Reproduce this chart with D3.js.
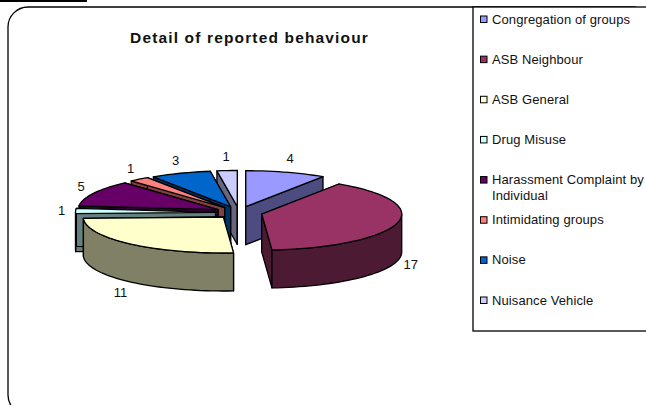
<!DOCTYPE html>
<html>
<head>
<meta charset="utf-8">
<style>
  html, body { margin: 0; padding: 0; background: #fff; }
  svg { display: block; }
  text { font-family: "Liberation Sans", Arial, sans-serif; fill: #111; }
</style>
<script src="https://cdnjs.cloudflare.com/ajax/libs/d3/7.8.5/d3.min.js"></script>
</head>
<body>
<div id="chart"></div>
<script>
const categories = ["Congregation of groups", "ASB Neighbour", "ASB General", "Drug Misuse",
    "Harassment Complaint by Individual", "Intimidating groups", "Noise", "Nuisance Vehicle"];
const counts = [4, 17, 11, 1, 5, 1, 3, 1];
const topColors = ["#9999ff", "#993366", "#ffffcc", "#ccffff", "#660066", "#ff8080", "#0066cc", "#ccccff"];
const sideColors = ["#4c4c80", "#4c1a33", "#808066", "#668080", "#330033", "#804040", "#003366", "#666680"];
// back to front, so nearer slices cover the walls behind them
const paintOrder = [7, 0, 6, 5, 4, 3, 2, 1];

const width = 646, height = 405;

// pie geometry
const cx = 239, cy = 212.5, rx = 140, ry = 36, depth = 38, explode = 23.5;
const labelGap = 14;

let svg = d3.select("#chart").append("svg").attr("width", width).attr("height", height);

// frame
svg.append("rect").attr("x", 0).attr("y", 0).attr("width", 87).attr("height", 2).attr("fill", "#000");
svg.append("rect")
    .attr("x", 8).attr("y", 7).attr("width", 644).attr("height", 408)
    .attr("rx", 20).attr("ry", 20)
    .attr("fill", "#fff").attr("stroke", "#000").attr("stroke-width", 1.3);

svg.append("text")
    .attr("x", 249.5).attr("y", 43)
    .attr("text-anchor", "middle")
    .style("font-size", "15.5px").style("font-weight", "bold").style("letter-spacing", "1.15px")
    .text("Detail of reported behaviour");

// slices, angles measured clockwise from 12 o'clock
let slices = d3.pie().sort(null).value(d => d)(counts);
slices.forEach(s => {
    let mid = (s.startAngle + s.endAngle) / 2;
    s.mid = mid;
    s.ox = cx + explode * Math.sin(mid);
    s.oy = cy - explode * (ry / rx) * Math.cos(mid);
});

function rimPoint(s, a, drop) {
    return [s.ox + rx * Math.sin(a), s.oy - ry * Math.cos(a) + drop];
}

function arcPoints(s, a0, a1, drop) {
    let n = Math.max(2, Math.ceil((a1 - a0) / 0.04));
    return d3.range(n + 1).map(i => rimPoint(s, a0 + (a1 - a0) * i / n, drop));
}

let line = d3.line();
let closed = pts => line(pts) + "Z";

let pie = svg.append("g")
    .attr("stroke", "#000").attr("stroke-width", 1.3).attr("stroke-linejoin", "round");

paintOrder.forEach(i => {
    let s = slices[i];
    let apex = [s.ox, s.oy], apexLow = [s.ox, s.oy + depth];

    // radial walls
    [s.startAngle, s.endAngle].forEach(a => {
        pie.append("path")
            .attr("d", closed([rimPoint(s, a, 0), apex, apexLow, rimPoint(s, a, depth)]))
            .attr("fill", sideColors[i]);
    });

    // outer wall, only the part facing the viewer
    let a0 = Math.max(s.startAngle, Math.PI / 2), a1 = Math.min(s.endAngle, 3 * Math.PI / 2);
    if (a1 > a0) {
        pie.append("path")
            .attr("d", closed(arcPoints(s, a0, a1, 0).concat(arcPoints(s, a0, a1, depth).reverse())))
            .attr("fill", sideColors[i]);
    }

    // top face
    pie.append("path")
        .attr("d", closed([apex].concat(arcPoints(s, s.startAngle, s.endAngle, 0))))
        .attr("fill", topColors[i]);
});

// data labels
svg.append("g").selectAll("text")
    .data(slices)
    .join("text")
    .attr("x", s => s.ox + (rx + labelGap) * Math.sin(s.mid))
    .attr("y", s => {
        let front = s.mid > Math.PI / 2 && s.mid < 3 * Math.PI / 2;
        return s.oy - (ry + labelGap) * Math.cos(s.mid) + (front ? depth : 0);
    })
    .attr("dy", "0.35em")
    .attr("text-anchor", "middle")
    .style("font-size", "13px")
    .text(s => s.data);

// legend
svg.append("rect")
    .attr("x", 473).attr("y", 7).attr("width", 190).attr("height", 324)
    .attr("fill", "#fff").attr("stroke", "#000").attr("stroke-width", 1.3);

let legendY = d3.scalePoint().domain(categories).range([19, 300]);

let legend = svg.append("g").selectAll("g")
    .data(categories)
    .join("g")
    .attr("transform", d => `translate(480,${legendY(d)})`);

legend.append("rect")
    .attr("x", 0.5).attr("y", -3).attr("width", 6.5).attr("height", 6.5)
    .attr("fill", (d, i) => topColors[i])
    .attr("stroke", "#000").attr("stroke-width", 1);

legend.append("text")
    .attr("x", 12).attr("y", 0)
    .style("font-size", "13px").style("letter-spacing", "0.1px")
    .each(function (d) {
        // the long entry wraps onto a second line
        let lines = d.length > 30 ? ["Harassment Complaint by", "Individual"] : [d];
        d3.select(this).selectAll("tspan")
            .data(lines)
            .join("tspan")
            .attr("x", 12)
            .attr("dy", (l, j) => j ? "16px" : "0.35em")
            .text(l => l);
    });
</script>
</body>
</html>
